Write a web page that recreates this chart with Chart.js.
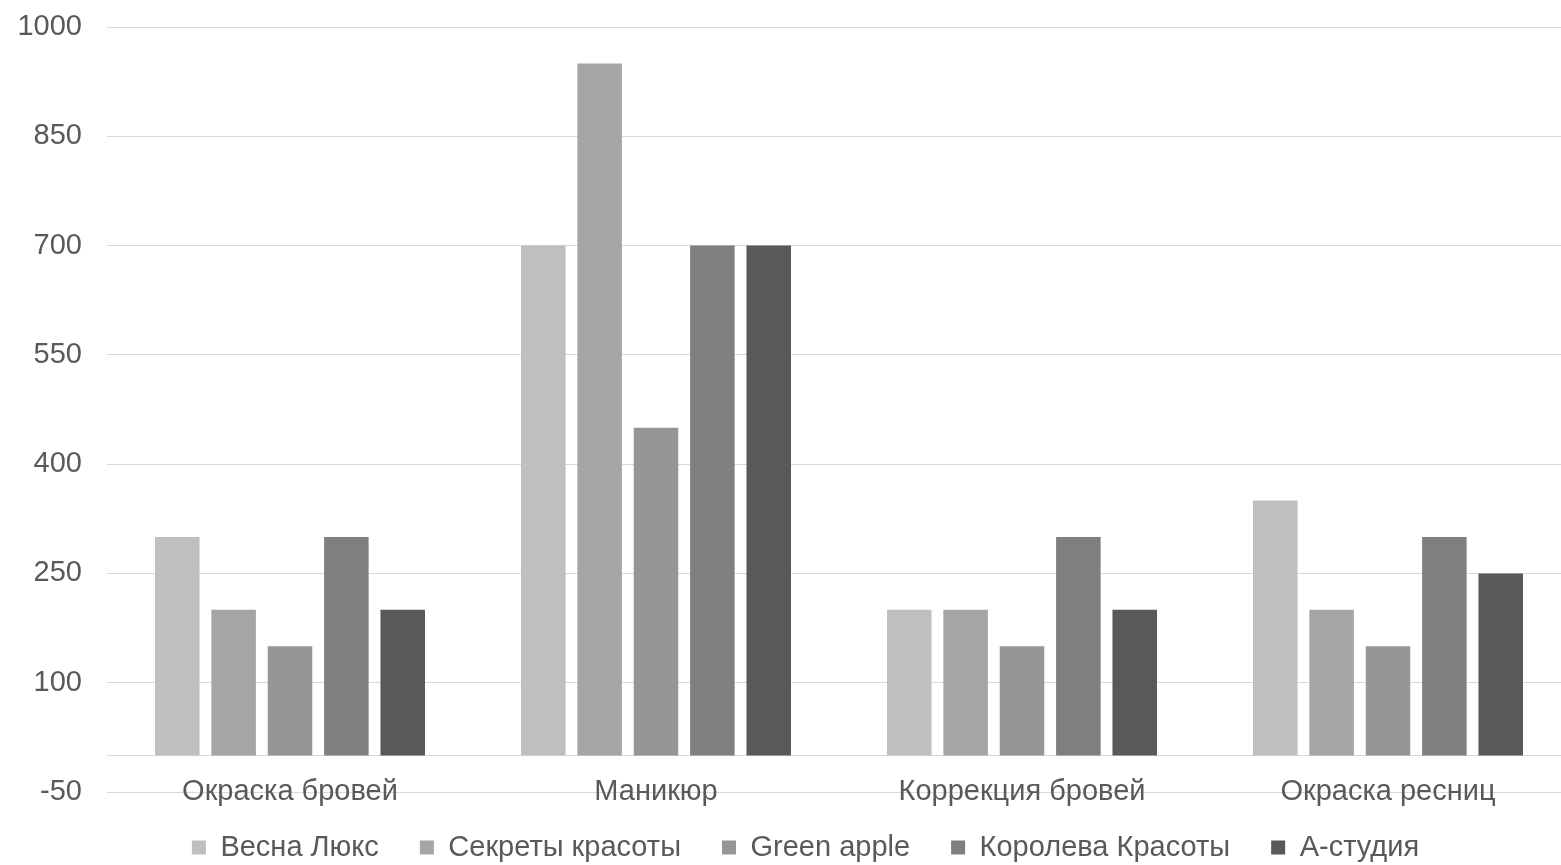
<!DOCTYPE html>
<html>
<head>
<meta charset="utf-8">
<script src="https://cdn.jsdelivr.net/npm/chart.js@4"></script>
<style>
  html, body { margin: 0; padding: 0; background: #fff; overflow: hidden; }
  #wrap { width: 1561px; height: 865px; overflow: hidden; }
</style>
</head>
<body>
<div id="wrap"><canvas id="salonChart" width="1571" height="865"></canvas></div>
<script>
const categories = ['Окраска бровей', 'Маникюр', 'Коррекция бровей', 'Окраска ресниц'];
const salons = ['Весна Люкс', 'Секреты красоты', 'Green apple', 'Королева Красоты', 'А-студия'];
const vesnaLux = [300, 700, 200, 350];
const sekretyKrasoty = [200, 950, 200, 200];
const greenApple = [150, 450, 150, 150];
const korolevaKrasoty = [300, 700, 300, 300];
const aStudio = [200, 700, 200, 250];
const yTicks = [-50, 100, 250, 400, 550, 700, 850, 1000];

const seriesValues = [vesnaLux, sekretyKrasoty, greenApple, korolevaKrasoty, aStudio];
const colors = ['#bfbfbf', '#a5a5a5', '#969696', '#7f7f7f', '#595959'];

// nudge the legend row a bit to the right, like the original
const legendShift = {
    id: 'legendShift',
    afterLayout(chart) {
        chart.legend.left += 11;
        chart.legend.right += 11;
    }
};

document.addEventListener("DOMContentLoaded", function () {
    const ctx = document.getElementById('salonChart').getContext('2d');
    const font = { family: '"Liberation Sans", Arial, sans-serif', size: 29 };

    // the plot runs a little past the right edge of the visible page
    new Chart(ctx, {
        type: 'bar',
        data: {
            labels: categories,
            datasets: salons.map((name, i) => ({
                label: name,
                data: seriesValues[i],
                backgroundColor: colors[i],
                borderWidth: 0,
                categoryPercentage: 0.77,
                barPercentage: 0.79
            }))
        },
        plugins: [legendShift],
        options: {
            responsive: false,
            animation: false,
            layout: { padding: { left: 18, right: 0, top: 27, bottom: -7 } },
            plugins: {
                tooltip: { enabled: false },
                legend: {
                    position: 'bottom',
                    labels: {
                        color: '#595959',
                        font: font,
                        boxWidth: 14,
                        boxHeight: 14,
                        padding: 41
                    }
                }
            },
            scales: {
                x: {
                    position: { y: 0 },
                    grid: { display: false, drawTicks: false },
                    border: { display: true, color: '#d9d9d9', width: 1 },
                    ticks: { color: '#595959', font: font, padding: 19, maxRotation: 0 }
                },
                y: {
                    min: yTicks[0],
                    max: yTicks[yTicks.length - 1],
                    afterBuildTicks: function (axis) {
                        axis.ticks = yTicks.map(v => ({ value: v }));
                    },
                    afterFit: function (axis) {
                        // labels are right-aligned 25px left of the plot; no extra top padding
                        axis.width = 89;
                        axis.paddingTop = 0;
                    },
                    grid: { color: '#d9d9d9', drawTicks: false },
                    border: { display: false },
                    ticks: {
                        color: '#595959',
                        font: font,
                        padding: 25,
                        callback: function (value) { return String(value); }
                    }
                }
            }
        }
    });
});
</script>
</body>
</html>
